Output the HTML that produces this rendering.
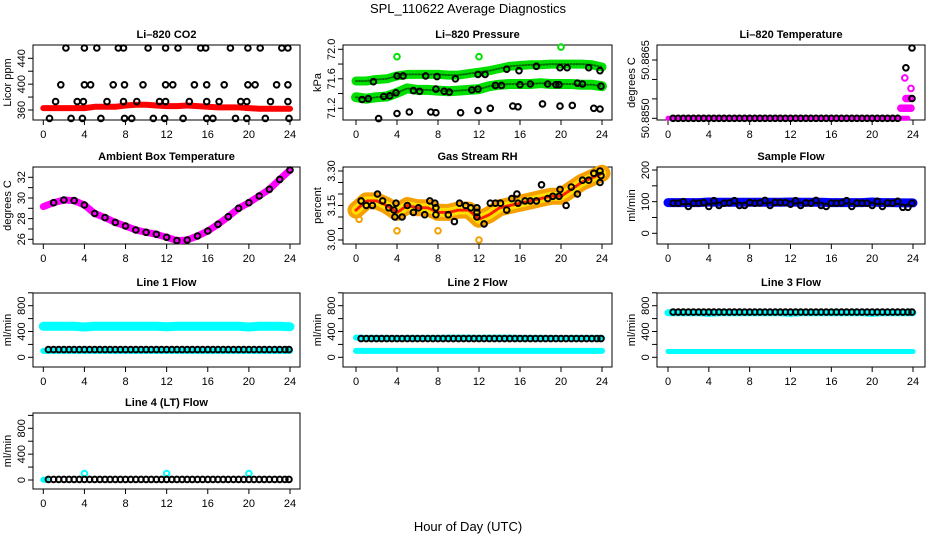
<!DOCTYPE html>
<html><head><meta charset="utf-8"><style>
html,body{margin:0;padding:0;background:#fff;}
svg{display:block;font-family:"Liberation Sans",sans-serif;}
</style></head><body>
<svg id="chart" width="936" height="540" viewBox="0 0 936 540" xmlns="http://www.w3.org/2000/svg">
<rect width="936" height="540" fill="#fff"/>
<text x="468" y="13" text-anchor="middle" font-size="13">SPL_110622  Average Diagnostics</text>
<text x="468" y="531" text-anchor="middle" font-size="13">Hour of Day (UTC)</text>
</svg>
<script>
const HOURS = [0,1,2,3,4,5,6,7,8,9,10,11,12,13,14,15,16,17,18,19,20,21,22,23,24];
const HALF = [0.5,1,1.5,2,2.5,3,3.5,4,4.5,5,5.5,6,6.5,7,7.5,8,8.5,9,9.5,10,10.5,11,11.5,12,12.5,13,13.5,14,14.5,15,15.5,16,16.5,17,17.5,18,18.5,19,19.5,20,20.5,21,21.5,22,22.5,23,23.5,23.9];
const X_TICKS = [0,4,8,12,16,20,24];

const co2Band = [363,363,363,363,363,365,365,365,367,368,368,367,366,366,367,366,365,364,364,364,363,362,362,362,362];
const co2CircH = [2.2,4.0,5.2,7.3,7.8,10.2,11.9,13.1,15.3,15.8,18.2,19.9,21.1,23.2,23.8, 1.7,4.0,4.6,6.8,7.9,9.7,11.9,12.6,14.7,15.9,17.6,19.9,20.6,22.7,23.8, 1.2,3.3,3.9,6.2,7.8,9.1,11.3,11.9,14.2,15.9,17.1,19.2,19.8,22.1,23.8, 0.6,2.7,3.8,5.6,7.9,8.6,10.7,11.8,13.6,15.9,16.5,18.7,19.8,21.6,23.9];
const co2CircV = [456,456,456,456,456,456,456,456,456,456,456,456,456,456,456, 399,399,399,399,399,399,399,399,399,399,399,399,399,399,399, 373,373,373,373,373,373,373,373,373,373,373,373,373,373,373, 347,347,347,347,347,347,347,347,347,347,347,347,347,347,347];

const pressUpper = [71.57,71.57,71.59,71.60,71.64,71.66,71.66,71.66,71.66,71.65,71.65,71.67,71.69,71.71,71.74,71.77,71.78,71.79,71.79,71.80,71.80,71.80,71.80,71.79,71.76];
const pressLower = [71.35,71.33,71.35,71.36,71.41,71.47,71.45,71.45,71.44,71.43,71.44,71.45,71.46,71.50,71.52,71.53,71.53,71.53,71.54,71.53,71.53,71.53,71.52,71.52,71.50];
const pressCircH = [2.2,4.0,5.2,7.3,7.8,10.2,11.9,13.1,15.3,15.8,18.2,19.9,21.1,23.2,23.8, 1.7,4.0,4.6,6.8,7.9,9.7,11.9,12.6,14.7,15.9,17.6,19.9,20.6,22.7,23.8, 0.6,1.2,2.7,3.3,3.9,5.6,6.2,7.8,8.6,9.1,11.3,11.9,13.6,14.2,16.0,17.0,18.7,19.5,19.8,21.6,22.1,23.9];
const pressCircV = [71.06,71.13,71.15,71.15,71.14,71.14,71.17,71.20,71.23,71.22,71.26,71.23,71.24,71.20,71.19, 71.56,71.64,71.64,71.64,71.63,71.60,71.66,71.66,71.73,71.71,71.77,71.75,71.75,71.75,71.71, 71.32,71.33,71.36,71.37,71.41,71.44,71.43,71.46,71.43,71.42,71.45,71.46,71.51,71.51,71.52,71.53,71.53,71.52,71.52,71.54,71.53,71.50];
const pressOutH = [4,12,20];
const pressOutV = [71.90,71.90,72.03];

const tempBandH = [0,23.5];
const tempBandV = [50.8850,50.8850];
const tempEndH = [22.8,23.0,23.2,23.4,23.6,23.8, 23.3,23.5,23.7, 23.2,23.8];
const tempEndV = [50.88526,50.88526,50.88526,50.88526,50.88526,50.88526, 50.88551,50.88551,50.88551, 50.88604,50.88577];
const tempCircH = [0.5,1,1.5,2,2.5,3,3.5,4,4.5,5,5.5,6,6.5,7,7.5,8,8.5,9,9.5,10,10.5,11,11.5,12,12.5,13,13.5,14,14.5,15,15.5,16,16.5,17,17.5,18,18.5,19,19.5,20,20.5,21,21.5,22,22.5,23.3,23.9,23.9];
const tempCircV = [50.885,50.885,50.885,50.885,50.885,50.885,50.885,50.885,50.885,50.885,50.885,50.885,50.885,50.885,50.885,50.885,50.885,50.885,50.885,50.885,50.885,50.885,50.885,50.885,50.885,50.885,50.885,50.885,50.885,50.885,50.885,50.885,50.885,50.885,50.885,50.885,50.885,50.885,50.885,50.885,50.885,50.885,50.885,50.885,50.885,50.8863,50.88551,50.88681];

const ambient = [29.16,29.54,29.80,29.75,29.32,28.50,28.10,27.64,27.29,26.90,26.68,26.48,26.19,25.87,25.93,26.32,26.80,27.45,28.19,29.00,29.54,30.19,30.84,31.80,32.71];

const rhBand = [3.13,3.17,3.17,3.15,3.12,3.15,3.14,3.14,3.12,3.12,3.13,3.13,3.09,3.11,3.14,3.15,3.16,3.17,3.18,3.19,3.19,3.22,3.25,3.27,3.29];
const rhCircH = [0.5,1.0,1.6,2.1,2.6,3.2,3.7,3.9,3.8,4.5,5.0,5.6,6.1,6.7,7.2,7.7,7.8,7.8,9.0,9.6,10.1,10.7,11.2,11.8,11.8,11.8,12.5,13.1,13.6,14.1,14.7,15.2,15.7,15.8,16.5,17.0,17.6,18.1,18.7,19.2,19.8,19.9,20.5,21.0,21.6,22.1,22.7,23.2,23.8,23.9,23.8];
const rhCircV = [3.17,3.15,3.15,3.20,3.17,3.14,3.13,3.16,3.10,3.10,3.15,3.12,3.14,3.11,3.17,3.16,3.11,3.14,3.11,3.08,3.16,3.15,3.14,3.14,3.10,3.12,3.07,3.16,3.16,3.16,3.13,3.18,3.20,3.16,3.17,3.17,3.17,3.24,3.18,3.19,3.19,3.22,3.15,3.23,3.20,3.26,3.26,3.29,3.30,3.28,3.25];
const rhOutH = [12,4,8,0.3];
const rhOutV = [3.00,3.04,3.04,3.09];

const sampleBand = [97,97,97,97,99,98,98,98,98,98,98,98,99,98,98,98,97,97,97,97,99,97,97,96,96];
const sampleCirc = [95,95,100,85,95,95,97,85,103,88,95,96,103,88,88,97,95,96,104,88,98,97,97,92,103,88,96,95,104,88,85,95,95,96,103,85,96,95,95,88,101,85,96,95,101,82,82,95];

const line1Upper = [480,480,480,480,470,480,480,480,480,480,480,480,475,480,480,480,480,480,480,480,470,480,480,480,475];
const line1Lower = [100,100,100,100,100,100,100,100,100,100,100,100,100,100,100,100,100,100,100,100,100,100,100,100,100];
const line1Circ = [120,120,120,120,120,120,120,120,120,120,120,120,120,120,120,120,120,120,120,120,120,120,120,120,120,120,120,120,120,120,120,120,120,120,120,120,120,120,120,120,120,120,120,120,120,120,120,120];
const line2Upper = [305,300,300,300,295,300,300,300,300,305,305,305,300,305,305,305,300,300,300,300,295,300,300,300,300];
const line2Lower = [100,100,100,100,100,100,100,100,100,100,100,100,100,100,100,100,100,100,100,100,100,100,100,100,100];
const line2Circ = [290,290,290,290,290,290,290,290,290,290,290,290,290,290,290,290,290,290,290,290,290,290,290,290,290,290,290,290,290,290,290,290,290,290,290,290,290,290,290,290,290,290,290,290,290,290,290,290];
const line3Upper = [690,690,690,690,680,690,690,690,690,690,690,690,680,690,690,690,690,690,690,690,680,690,690,690,690];
const line3Lower = [90,90,90,90,90,90,90,90,90,90,90,90,90,90,90,90,90,90,90,90,90,90,90,90,90];
const line3Circ = [700,700,700,700,700,700,700,700,700,700,700,700,700,700,700,700,700,700,700,700,700,700,700,700,700,700,700,700,700,700,700,700,700,700,700,700,700,700,700,700,700,700,700,700,700,700,700,700];
const line4Circ = [10,10,10,10,10,10,10,10,10,10,10,10,10,10,10,10,10,10,10,10,10,10,10,10,10,10,10,10,10,10,10,10,10,10,10,10,10,10,10,10,10,10,10,10,10,10,10,10];
const line4OutH = [4,12,20];
const line4OutV = [100,100,100];

const NS = "http://www.w3.org/2000/svg";
const svg = document.getElementById('chart');
function el(tag, attrs, parent){ const e=document.createElementNS(NS,tag); for(const k in attrs) e.setAttribute(k,attrs[k]); (parent||svg).appendChild(e); return e; }

function makePanel(p){
  const g = el('g',{});
  
  
  p.sx = h => p.h0 + h*(p.h24-p.h0)/24;
  p.sy = v => p.py1 + (v-p.v1)*(p.py2-p.py1)/(p.v2-p.v1);
  p.g = g;
  const [x0,x1,y0,y1] = p.box;
  const box = el('rect',{x:x0,y:y0,width:x1-x0,height:y1-y0,fill:'none',stroke:'#000','stroke-width':1},g);
  
  
  const t = el('text',{x:(x0+x1)/2,y:y0-7,'text-anchor':'middle','font-size':11,'font-weight':'bold'},g);
  t.textContent = p.title;
  
  
  const xa = el('g',{},g);
  
  
  X_TICKS.forEach(h=>{
    const x=p.sx(h);
    el('line',{x1:x,x2:x,y1:y1,y2:y1+5,stroke:'#000'},xa);
    const tx=el('text',{x:x,y:y1+18,'text-anchor':'middle','font-size':11},xa);
    tx.textContent=h;
    
    
  });
  const ya = el('g',{},g);
  
  
  p.yTicks.forEach(v=>{
    const y=p.sy(v);
    el('line',{x1:x0-5,x2:x0,y1:y,y2:y,stroke:'#000'},ya);
  });
  p.yLabels.forEach((v,i)=>{
    const y=p.sy(v);
    const tx=el('text',{x:x0-8,y:y,'text-anchor':'middle','font-size':11,transform:`rotate(-90 ${x0-8} ${y})`},ya);
    tx.textContent=p.yLabelText[i];
    
    
  });
  const yt=el('text',{x:x0-22,y:(y0+y1)/2,'text-anchor':'middle','font-size':11,transform:`rotate(-90 ${x0-22} ${(y0+y1)/2})`},g);
  yt.textContent=p.ylab;
  
  
  return p;
}
function band(p, hs, vs, color, w, name){
  const d = hs.map((h,i)=>(i?'L':'M')+p.sx(h).toFixed(1)+' '+p.sy(vs[i]).toFixed(1)).join(' ');
  const e = el('path',{d:d,fill:'none',stroke:color,'stroke-width':w,'stroke-linecap':'round','stroke-linejoin':'round'},p.g);
  
  
  return e;
}
function points(p, hs, vs, color, name, r){
  const g = el('g',{},p.g);
  
  
  hs.forEach((h,i)=>{
    const c=el('circle',{cx:p.sx(h).toFixed(1),cy:p.sy(vs[i]).toFixed(1),r:r||2.8,fill:'none',stroke:color,'stroke-width':2},g);
    
    
  });
}
const C1={h0:43.3,h24:290}, C2={h0:356,h24:602}, C3={h0:668,h24:913};
const FLOW_T=[0,200,400,600,800,1000];

const co2 = makePanel(Object.assign({name:'co2-panel',title:'Li\u2013820 CO2',ylab:'Licor ppm',box:[33,300,45,120],v1:360,py1:110,v2:440,py2:58.3,yTicks:[360,380,400,420,440],yLabels:[360,400,440],yLabelText:['360','400','440']},C1));
band(co2,HOURS,co2Band,'#ff0000',6,'co2-band');
points(co2,co2CircH,co2CircV,'#000','co2-samples');

const pr = makePanel(Object.assign({name:'pressure-panel',title:'Li\u2013820 Pressure',ylab:'kPa',box:[343,612,45,120],v1:71.2,py1:108.3,v2:72.0,py2:49.3,yTicks:[71.2,71.4,71.6,71.8,72.0],yLabels:[71.2,71.6,72.0],yLabelText:['71.2','71.6','72.0']},C2));
band(pr,HOURS,pressUpper,'#00e000',9,'pressure-upper-band');
band(pr,HOURS,pressLower,'#00e000',10,'pressure-lower-band');
band(pr,HOURS,pressUpper,'#007000',2,'pressure-upper-texture').setAttribute('stroke-dasharray','1 2');
band(pr,HOURS,pressLower,'#007000',2,'pressure-lower-texture').setAttribute('stroke-dasharray','1 2');
points(pr,pressOutH,pressOutV,'#00e000','pressure-outliers');
points(pr,pressCircH,pressCircV,'#000','pressure-samples');

const tp = makePanel(Object.assign({name:'temperature-panel',title:'Li\u2013820 Temperature',ylab:'degrees C',box:[657,925,45,120],v1:50.8850,py1:118.3,v2:50.8865,py2:60,yTicks:[50.8850,50.8855,50.8860,50.8865],yLabels:[50.8850,50.8865],yLabelText:['50.8850','50.8865']},C3));
band(tp,tempBandH,tempBandV,'#ff00ff',5,'temperature-band');
points(tp,tempEndH,tempEndV,'#ff00ff','temperature-magenta-points');
points(tp,tempCircH,tempCircV,'#000','temperature-samples');

const am = makePanel(Object.assign({name:'ambient-panel',title:'Ambient Box Temperature',ylab:'degrees C',box:[33,300,167,244],v1:26,py1:239.3,v2:32,py2:177.3,yTicks:[26,27,28,29,30,31,32],yLabels:[26,28,30,32],yLabelText:['26','28','30','32']},C1));
band(am,HOURS,ambient,'#ff00ff',7,'ambient-band');
points(am,HOURS.slice(1),ambient.slice(1),'#000','ambient-samples');

const rh = makePanel(Object.assign({name:'rh-panel',title:'Gas Stream RH',ylab:'percent',box:[343,612,167,244],v1:3.0,py1:240,v2:3.3,py2:171,yTicks:[3.0,3.05,3.1,3.15,3.2,3.25,3.3],yLabels:[3.0,3.15,3.3],yLabelText:['3.00','3.15','3.30']},C2));
band(rh,HOURS,rhBand,'#f5a000',17,'rh-band');
band(rh,HOURS,rhBand,'#ffe000',9,'rh-band-inner').setAttribute('stroke-dasharray','2 2');
band(rh,HOURS,rhBand,'#ff2000',3,'rh-band-texture').setAttribute('stroke-dasharray','1 2');
points(rh,rhOutH,rhOutV,'#f5a000','rh-outliers');
points(rh,rhCircH,rhCircV,'#000','rh-samples');

const sf = makePanel(Object.assign({name:'sample-flow-panel',title:'Sample Flow',ylab:'ml/min',box:[657,925,167,244],v1:0,py1:233.3,v2:200,py2:170,yTicks:[0,50,100,150,200],yLabels:[0,100,200],yLabelText:['0','100','200']},C3));
band(sf,HOURS,sampleBand,'#0000ff',9,'sample-flow-band');
points(sf,HALF,sampleCirc,'#000','sample-flow-samples');

const FL = {v1:0,py1:357.3,v2:800,py2:305.7,yTicks:FLOW_T,yLabels:[0,400,800],yLabelText:['0','400','800'],ylab:'ml/min'};
const l1 = makePanel(Object.assign({name:'line1-panel',title:'Line 1 Flow',box:[33,300,293,367]},FL,C1));
band(l1,HOURS,line1Upper,'#00ffff',9,'line1-upper-band');
band(l1,HOURS,line1Lower,'#00ffff',6,'line1-lower-band');
points(l1,HALF,line1Circ,'#000','line1-samples');
const l2 = makePanel(Object.assign({name:'line2-panel',title:'Line 2 Flow',box:[343,612,293,367]},FL,C2));
band(l2,HOURS,line2Upper,'#00ffff',6,'line2-upper-band');
band(l2,HOURS,line2Lower,'#00ffff',6,'line2-lower-band');
points(l2,HALF,line2Circ,'#000','line2-samples');
const l3 = makePanel(Object.assign({name:'line3-panel',title:'Line 3 Flow',box:[657,925,293,367]},FL,C3));
band(l3,HOURS,line3Upper,'#00ffff',7,'line3-upper-band');
band(l3,HOURS,line3Lower,'#00ffff',5,'line3-lower-band');
points(l3,HALF,line3Circ,'#000','line3-samples');
const l4 = makePanel(Object.assign({name:'line4-panel',title:'Line 4 (LT) Flow',box:[33,300,413,489]},FL,C1,{py1:480,py2:428.3}));
band(l4,[0,0.3],[5,5],'#00ffff',6,'line4-band');
points(l4,line4OutH,line4OutV,'#00ffff','line4-outliers');
points(l4,HALF,line4Circ,'#000','line4-samples');
</script>
</body></html>
